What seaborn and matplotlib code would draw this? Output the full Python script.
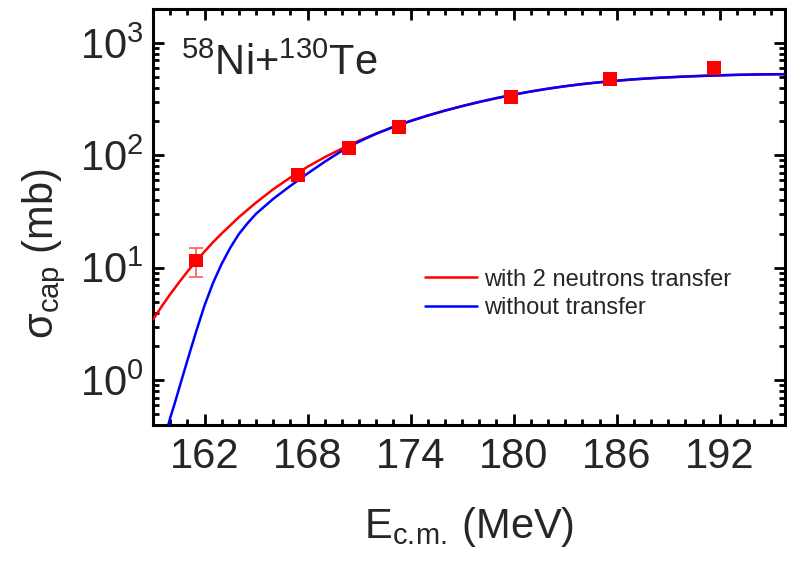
import numpy as np
import pandas as pd
import matplotlib
matplotlib.use("Agg")
import matplotlib.pyplot as plt
import seaborn as sns
from matplotlib.ticker import FixedLocator, LogLocator, NullFormatter

# ---- data ----
exp_energy = [161.5, 167.45, 170.41, 173.32, 179.85, 185.63, 191.67]
exp_sigma = [11.6, 67.0, 116.0, 180.0, 329.0, 476.0, 596.0]
exp_err = [3.4, 6.0, 10.0, 14.0, 22.0, 30.0, 30.0]

red_energy = [159.0, 159.5, 160.0, 160.5, 161.0, 161.5, 162.0, 162.5, 163.0, 164.0,
              165.0, 166.0, 167.0, 168.0, 169.0, 170.0, 171.0, 172.0, 173.0, 174.0,
              175.0, 176.0, 177.0, 178.0, 179.0, 180.0, 181.0, 182.0, 183.0, 184.0,
              185.0, 186.0, 187.0, 188.0, 189.0, 190.0, 191.0, 192.0, 193.0, 194.0,
              195.0, 196.0]
red_sigma = [3.47, 4.52, 5.82, 7.36, 9.23, 11.4, 13.96, 16.9, 20.18, 28.18,
             38.0, 49.9, 63.5, 79.1, 96.2, 114.8, 134.9, 156.3, 178.6, 201.8,
             225.4, 249.5, 273.5, 297.9, 322.1, 345.9, 369.0, 390.8, 411.1, 429.5,
             445.7, 460.3, 473.2, 484.2, 493.2, 501.2, 508.2, 514.0, 518.8, 522.4,
             524.8, 526.0]

blue_energy = [159.85, 160.0, 160.25, 160.5, 160.75, 161.0, 161.5, 162.0, 162.5, 163.0,
               163.5, 164.0, 164.5, 165.0, 166.0, 167.0, 168.0, 169.0, 170.0, 171.0,
               172.0, 173.0, 174.0, 175.0, 176.0, 177.0, 178.0, 179.0, 180.0, 181.0,
               182.0, 183.0, 184.0, 185.0, 186.0, 187.0, 188.0, 189.0, 190.0, 191.0,
               192.0, 193.0, 194.0, 195.0, 196.0]
blue_sigma = [0.381, 0.462, 0.612, 0.826, 1.114, 1.496, 2.673, 4.62, 7.36, 10.84,
              15.07, 19.95, 24.83, 30.2, 41.0, 53.5, 68.9, 87.7, 109.6, 132.4,
              155.6, 178.8, 202.2, 225.9, 250.0, 274.0, 298.5, 322.8, 346.6, 369.8,
              391.7, 412.0, 430.4, 446.6, 461.2, 474.1, 485.1, 494.1, 502.1, 509.1,
              514.9, 519.7, 523.3, 525.7, 526.9]

x_ticks = [162, 168, 174, 180, 186, 192]
y_ticks = [1, 10, 100, 1000]
y_tick_labels = [r"$10^{0}$", r"$10^{1}$", r"$10^{2}$", r"$10^{3}$"]
label_red = "with 2 neutrons transfer"
label_blue = "without transfer"

# ---- style ----
sns.set_style("ticks")
plt.rcParams["font.family"] = ["Liberation Sans", "DejaVu Sans"]
plt.rcParams["mathtext.fontset"] = "custom"
plt.rcParams["mathtext.rm"] = "Liberation Sans"
plt.rcParams["mathtext.it"] = "Liberation Sans"
plt.rcParams["mathtext.bf"] = "Liberation Sans:bold"

fig = plt.figure(figsize=(7.87, 5.61), dpi=100)
ax = fig.add_axes([153 / 787, 1 - 425 / 561, (785 - 153) / 787, (425 - 9) / 561])

curves = pd.concat([
    pd.DataFrame({"E": red_energy, "sigma": red_sigma, "model": label_red}),
    pd.DataFrame({"E": blue_energy, "sigma": blue_sigma, "model": label_blue}),
], ignore_index=True)

sns.lineplot(data=curves, x="E", y="sigma", hue="model",
             palette={label_red: "#ff0000", label_blue: "#0000ff"},
             estimator=None, sort=False, linewidth=1.8, ax=ax, zorder=3)

ax.errorbar(exp_energy, exp_sigma, yerr=exp_err, fmt="none", ecolor="#ff5a5a",
            elinewidth=1.2, capsize=5, capthick=1.2, zorder=4)
exp_df = pd.DataFrame({"E": exp_energy, "sigma": exp_sigma})
sns.scatterplot(data=exp_df, x="E", y="sigma", marker="s", s=100, color="#ff0000",
                edgecolor="none", ax=ax, zorder=5, legend=False)

ax.set_yscale("log")
ax.set_xlim(159.0, 195.8)
ax.set_ylim(0.4, 2000)

ax.xaxis.set_major_locator(FixedLocator(x_ticks))
ax.xaxis.set_minor_locator(FixedLocator(list(range(160, 196))))
ax.set_xticklabels([str(t) for t in x_ticks])
ax.yaxis.set_major_locator(FixedLocator(y_ticks))
ax.set_yticklabels(y_tick_labels)
ax.yaxis.set_minor_locator(LogLocator(base=10, subs=np.arange(2, 10), numticks=20))
ax.yaxis.set_minor_formatter(NullFormatter())

for s in ax.spines.values():
    s.set_linewidth(2.2)
    s.set_color("black")
    s.set_visible(True)

ax.tick_params(which="both", direction="in", top=True, right=True, color="black")
ax.tick_params(which="major", length=8, width=2.0)
ax.tick_params(which="minor", length=4.5, width=2.0)
ax.tick_params(axis="x", which="major", labelsize=30, pad=9)
ax.tick_params(axis="y", which="major", labelsize=30, pad=7)

ax.set_xlabel(r"E$_{\rm c.\!m.\!}$ (MeV)", fontsize=30, labelpad=20)
ax.set_ylabel(r"σ$_{\rm cap}$ (mb)", fontsize=30)
ax.yaxis.set_label_coords(-0.135, 0.413)

ax.text(0.045, 0.918, r"$^{58}$Ni+$^{130}$Te", transform=ax.transAxes,
        fontsize=30, ha="left", va="top")

leg = ax.legend(loc="upper left", bbox_to_anchor=(0.43, 0.376), frameon=False,
                fontsize=17, handlelength=2.2, handletextpad=0.3,
                labelspacing=0.28, borderpad=0, borderaxespad=0)
for line in leg.get_lines():
    line.set_linewidth(1.8)

fig.savefig("out.png", dpi=100)
